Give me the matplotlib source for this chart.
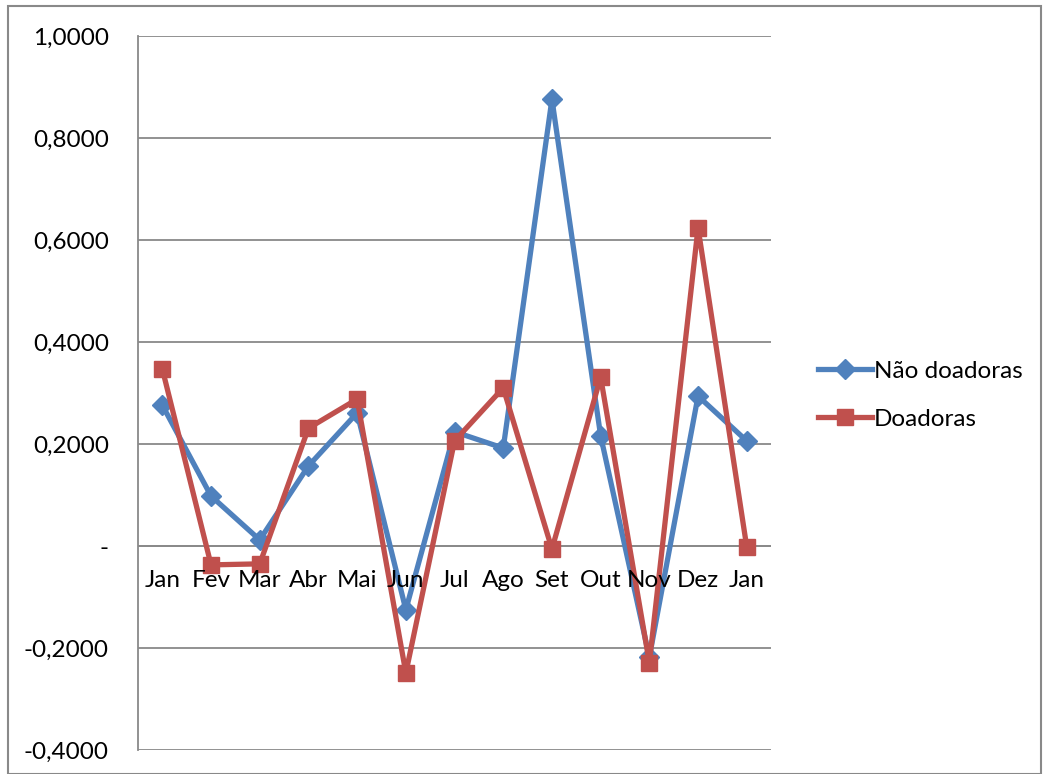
import matplotlib.pyplot as plt
from matplotlib.patches import Rectangle
from matplotlib.ticker import FuncFormatter

plt.rcParams['font.family'] = ['Lato', 'DejaVu Sans']

meses = ['Jan', 'Fev', 'Mar', 'Abr', 'Mai', 'Jun', 'Jul', 'Ago', 'Set', 'Out', 'Nov', 'Dez', 'Jan']
nao_doadoras = [0.276, 0.098, 0.012, 0.157, 0.261, -0.125, 0.224, 0.192, 0.876, 0.216, -0.218, 0.294, 0.206]
doadoras = [0.347, -0.037, -0.035, 0.231, 0.288, -0.249, 0.206, 0.310, -0.006, 0.331, -0.229, 0.624, -0.002]

azul = '#4F81BD'
vermelho = '#C0504D'
cinza = '#898989'
fs = 17.5

fig = plt.figure(figsize=(10.43, 7.74), dpi=100)
ax = fig.add_axes([0.1323, 0.031, 0.607, 0.9225])

x = list(range(len(meses)))
ax.plot(x, nao_doadoras, color=azul, lw=3.8, marker='D', ms=10,
        label='Não doadoras', solid_joinstyle='round')
ax.plot(x, doadoras, color=vermelho, lw=3.8, marker='s', ms=12,
        label='Doadoras', solid_joinstyle='round')

ax.set_xlim(-0.5, len(meses) - 0.5)
ax.set_ylim(-0.4, 1.0)
ax.set_yticks([-0.4, -0.2, 0, 0.2, 0.4, 0.6, 0.8, 1.0])


def fmt(v, pos):
    if abs(v) < 1e-9:
        return '-'
    return f'{v:.4f}'.replace('.', ',')


ax.yaxis.set_major_formatter(FuncFormatter(fmt))
ax.tick_params(axis='y', length=0, pad=21, labelsize=fs)
ax.set_xticks([])
ax.grid(axis='y', color=cinza, lw=1.3)
ax.set_axisbelow(True)
for s in ['top', 'right', 'bottom']:
    ax.spines[s].set_visible(False)
ax.spines['left'].set_color(cinza)
ax.spines['left'].set_linewidth(1.3)
ax.axhline(0, color=cinza, lw=1.3, zorder=0.5)

for i, m in enumerate(meses):
    ax.annotate(m, xy=(i, 0), xytext=(0, -24.5), textcoords='offset points',
                ha='center', va='center', fontsize=fs)

ax.legend(loc='center left', bbox_to_anchor=(1.04, 0.497), frameon=False,
          fontsize=fs, handlelength=2.2, handletextpad=0.1, labelspacing=1.1)

fig.patches.append(Rectangle((8 / 1043, 0.0), (1041 - 8) / 1043, 1 - 6 / 774 - 0.0,
                             transform=fig.transFigure, fill=False,
                             edgecolor=cinza, lw=1.5))

fig.savefig('out.png', dpi=100)
